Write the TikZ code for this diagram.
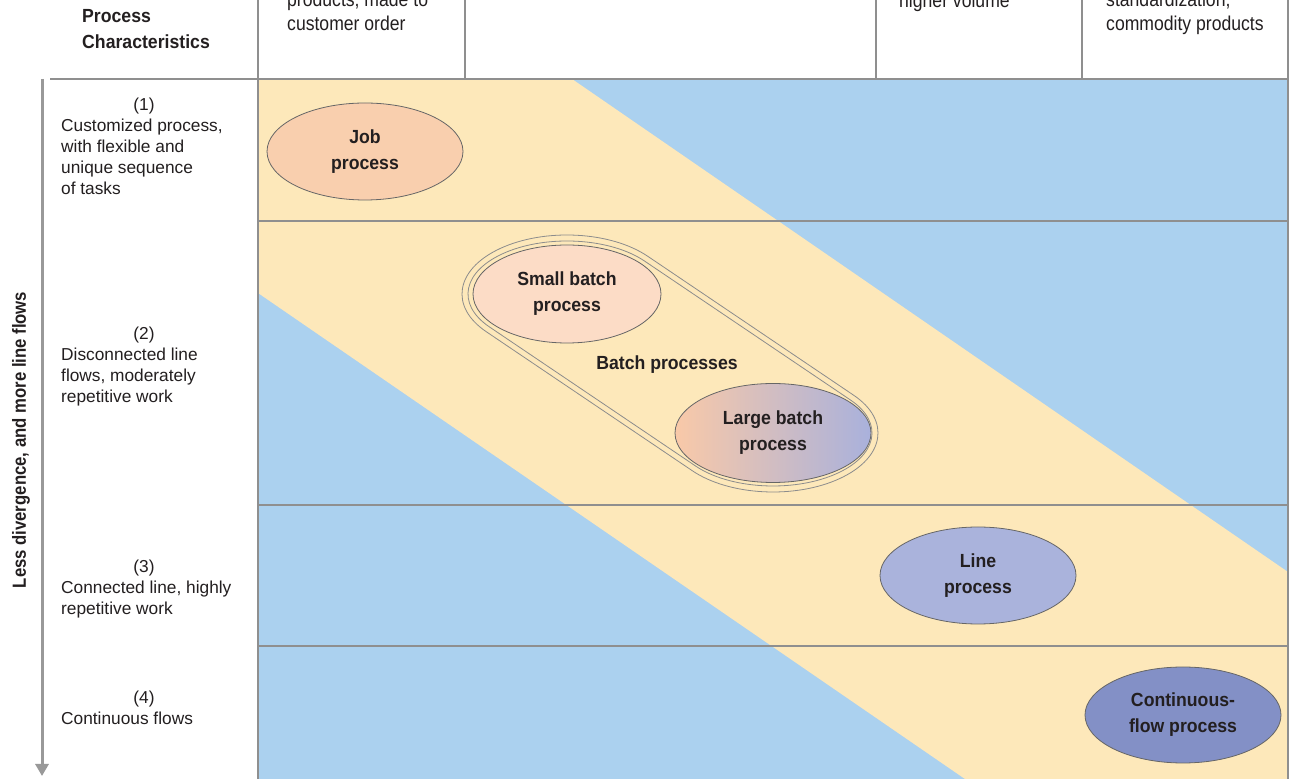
\documentclass[tikz,border=0pt]{standalone}
\usepackage{fontspec}
\setmainfont{Liberation Sans}
\newfontfamily\cnd[FakeStretch=0.88]{Liberation Sans}
\newfontfamily\cndw[FakeStretch=0.93]{Liberation Sans}
\usetikzlibrary{arrows.meta,calc,shapes.geometric}

\definecolor{band}{RGB}{253,232,186}
\definecolor{sky}{RGB}{171,209,239}
\definecolor{rule}{RGB}{143,143,143}
\definecolor{jobfill}{RGB}{249,207,174}
\definecolor{smallfill}{RGB}{252,220,198}
\definecolor{largeL}{RGB}{249,201,168}
\definecolor{largeR}{RGB}{169,177,220}
\definecolor{linefill}{RGB}{170,179,220}
\definecolor{contfill}{RGB}{131,144,198}
\definecolor{ink}{RGB}{35,31,32}

\begin{document}
\begin{tikzpicture}[x=1pt,y=1pt,
  proc/.style={ellipse, draw=black!60, line width=0.8pt, inner sep=0pt,
    minimum width=196pt, minimum height=97pt, align=center,
    font=\cndw\bfseries\fontsize{19}{26}\selectfont, text=ink},
  grid/.style={draw=rule, line width=1.4pt},
  hdr/.style={anchor=base west, inner sep=0pt, align=left,
    font=\cnd\fontsize{20}{24.5}\selectfont, text=ink},
  boldhdr/.style={anchor=base west, inner sep=0pt, align=left,
    font=\cndw\bfseries\fontsize{19}{26}\selectfont, text=ink},
  side/.style={anchor=base west, inner sep=0pt, align=left,
    font=\fontsize{17.3}{21}\selectfont, text=ink},
  num/.style={anchor=base, inner sep=0pt, font=\fontsize{17.3}{21}\selectfont, text=ink},
  hull/.style={draw=black!45, line width=0.8pt}
]
\useasboundingbox (0,0) rectangle (1291,779);
\clip (0,0) rectangle (1291,779);
\fill[white] (0,0) rectangle (1291,779);

% matrix field: blue ground with the diagonal yellow band
\fill[sky] (258,0) rectangle (1288,700);
\fill[band] (258,700) -- (572,700) -- (1288,207) -- (1288,0) -- (965,0) -- (258,486) -- cycle;

% rules
\draw[grid] (50,700) -- (1288,700);
\draw[grid] (258,558) -- (1288,558);
\draw[grid] (258,274) -- (1288,274);
\draw[grid] (258,133) -- (1288,133);
\draw[grid] (258,0) -- (258,779);
\draw[grid] (1288,0) -- (1288,779);
\draw[grid] (465,700) -- (465,779);
\draw[grid] (876,700) -- (876,779);
\draw[grid] (1082,700) -- (1082,779);

% column headings (base anchor sits on the last line)
\node[boldhdr] (pc) at (82,730) {Process\\Characteristics};
\node[hdr] (h1) at (287,748) {products, made to\\customer order};
\node[hdr] (h4) at (899,771) {higher volume};
\node[hdr] (h5) at (1106,748) {standardization,\\commodity products};

% row descriptions
\node[num] (n1) at (144,668) {(1)};
\node[side] (r1) at (61,584) {Customized process,\\with flexible and\\unique sequence\\of tasks};
\node[num] (n2) at (144,439) {(2)};
\node[side] (r2) at (61,376) {Disconnected line\\flows, moderately\\repetitive work};
\node[num] (n3) at (144,206) {(3)};
\node[side] (r3) at (61,164) {Connected line, highly\\repetitive work};
\node[num] (n4) at (144,75) {(4)};
\node[side] (r4) at (61,54) {Continuous flows};

% vertical axis arrow
\coordinate (atop) at (42,700);
\coordinate (abot) at (42,3);
\draw[draw=black!40, line width=3pt, -{Triangle[width=13pt,length=12pt]}] (atop) -- (abot);
\node[rotate=90, inner sep=0pt, font=\cnd\bfseries\fontsize{19}{26}\selectfont, text=ink]
  (axis) at (21,339) {Less divergence, and more line flows};

% process ellipses
\node[proc, fill=jobfill] (job) at (365,627.5) {Job\\process};
\node[proc, fill=smallfill, minimum width=188pt, minimum height=98pt] (sb) at (567,485) {Small batch\\process};
\node[proc, left color=largeL, right color=largeR, minimum height=99pt] (lb) at (773,346) {Large batch\\process};
\node[proc, fill=linefill] (ln) at (978,203.5) {Line\\process};
\node[proc, fill=contfill, minimum height=96pt] (cf) at (1183,64) {Continuous-\\flow process};

% double outline around the two batch processes
\pgfmathsetmacro\ti{atan(206*53/(139*99))}
\pgfmathsetmacro\to{atan(206*59/(139*105))}
\draw[hull] ($(sb.center)+({99*cos(\ti)},{53*sin(\ti)})$)
  arc[start angle=\ti, end angle=\ti+180, x radius=99, y radius=53]
  -- ($(lb.center)+({99*cos(\ti+180)},{53*sin(\ti+180)})$)
  arc[start angle=\ti+180, end angle=\ti+360, x radius=99, y radius=53] -- cycle;
\draw[hull] ($(sb.center)+({105*cos(\to)},{59*sin(\to)})$)
  arc[start angle=\to, end angle=\to+180, x radius=105, y radius=59]
  -- ($(lb.center)+({105*cos(\to+180)},{59*sin(\to+180)})$)
  arc[start angle=\to+180, end angle=\to+360, x radius=105, y radius=59] -- cycle;
\node[inner sep=0pt, font=\cndw\bfseries\fontsize{19}{26}\selectfont, text=ink] (bp) at (667,414) {Batch processes};

\end{tikzpicture}
\end{document}
